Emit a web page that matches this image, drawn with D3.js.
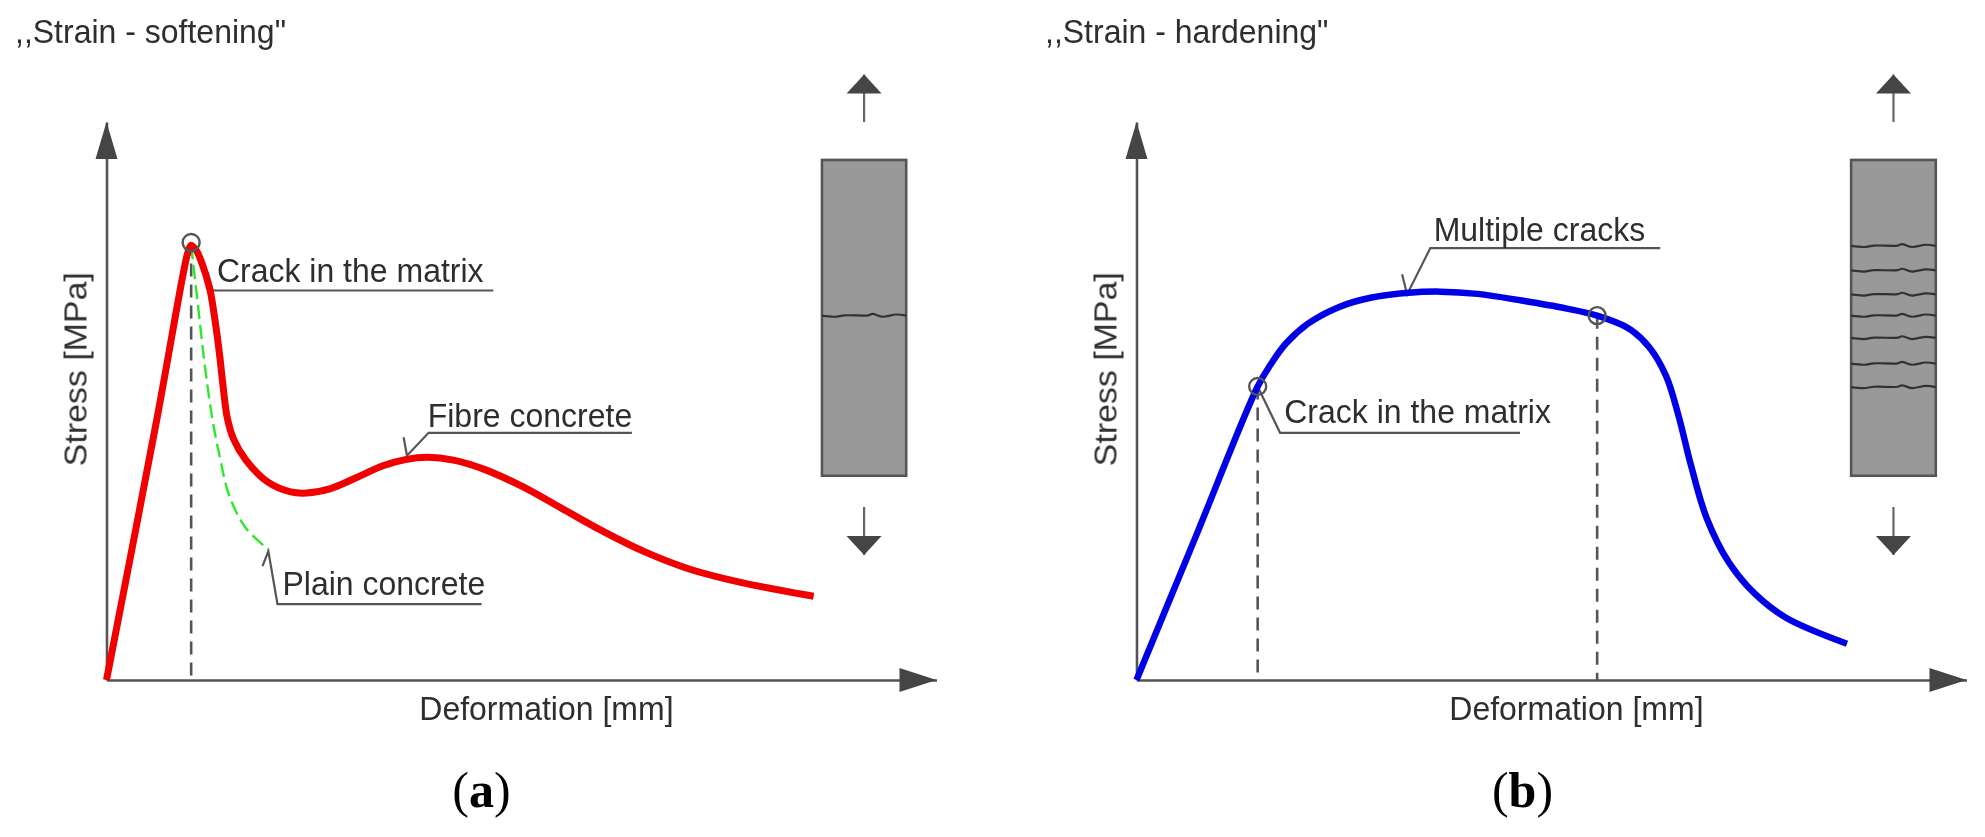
<!DOCTYPE html>
<html>
<head>
<meta charset="utf-8">
<script src="https://cdn.jsdelivr.net/npm/d3@7"></script>
<style>
	html, body { margin: 0; padding: 0; background: #fff; }
	svg { display: block; }
	text { font-family: "Liberation Sans", Arial, sans-serif; fill: #2e2e2e; }
</style>
</head>
<body>
<script>
// curves, [deformation, stress] in arbitrary units 0..100
var fibreConcrete = [[0,0],[6.1,47],[9.2,72.5],[9.8,76.6],[10.2,77.9],[10.8,77],[11.5,74.7],[12.47,69.9],[13.07,64.5],[13.6,58.6],[14.05,52.6],[14.55,47],[15.3,43.2],[16.8,39.4],[19.5,35.4],[22.2,33.7],[24.1,33.5],[27,34.3],[30,36.2],[33.3,38.4],[36,39.5],[38.7,39.9],[41.8,39.4],[45.6,37.7],[50.2,34.6],[54.8,30.8],[59.5,26.9],[64.8,23],[70.2,19.9],[76.4,17.5],[85.2,15]];
var plainConcrete = [[10.2,77.9],[11,67.4],[11.8,56.9],[12.7,47.3],[13.7,39.6],[14.8,33],[16.8,27.2],[19.5,23.4]];
var hardening = [[0,0],[7,25.2],[14.6,52.6],[16.1,56.4],[18,60.3],[20.7,63.9],[24.5,66.9],[28.2,68.5],[32.8,69.4],[36.6,69.6],[41.1,69.2],[46.4,68],[51.7,66.6],[55.5,65.3],[59.3,63],[61.8,59.6],[63.8,54.5],[65.3,47.4],[66.8,38.5],[68.7,29],[71.4,21],[74.4,15.6],[78.2,11.2],[85.6,6.5]];

var softeningMarks = [[10.2,78.4]];
var hardeningMarks = [[14.6,52.6],[55.5,65.3]];

// annotation labels and their leader lines
var softeningLabels = ['Crack in the matrix','Fibre concrete','Plain concrete'];
var softeningLabelPos = [[13.3,71.4],[38.7,45.4],[21.2,15.3]];
var softeningLeaders = [
	[[12.15,73.1],[12.8,69.8],[46.6,69.8]],
	[[35.8,43.5],[36.2,40.2],[38.8,44.3],[63.3,44.3]],
	[[18.8,20.4],[19.5,23.1],[20.6,13.6],[45.2,13.6]]
];
var hardeningLabels = ['Crack in the matrix','Multiple cracks'];
var hardeningLabelPos = [[17.8,46.1],[35.8,78.7]];
var hardeningLeaders = [
	[[14.6,52.6],[17.3,44.3],[46.2,44.3]],
	[[32,72.7],[32.6,69.1],[35.4,77.4],[63.1,77.4]]
];

// cracks in the specimen: stress-axis height of each crack and the wiggle along it
var softeningCracks = [65.3];
var hardeningCracks = [77.8,73.4,69.1,65.3,61.3,56.7,52.5];
var crackWiggle = [[0,0],[.15,-.2],[.27,.05],[.55,.05],[.6,.3],[.72,-.2],[.88,.2],[1,0]];

var width = 1985, height = 837;
var panelW = 830, panelH = 558, baseY = 680;
var textStretch = 1.06; // the reference is a little taller than it is wide

var svg = d3.select('body').append('svg').attr('width', width).attr('height', height);
var defs = svg.append('defs');
defs.append('filter').attr('id', 'soft')
	.attr('x', '-5%').attr('y', '-5%').attr('width', '110%').attr('height', '110%')
	.append('feGaussianBlur').attr('stdDeviation', 0.55);

function placeText(g, str, px, py, anchor) {
	return g.append('text')
		.attr('transform', 'translate(' + px + ',' + py + ') scale(1,' + textStretch + ')')
		.attr('text-anchor', anchor || 'start')
		.attr('font-size', 32)
		.text(str);
}

function drawPanel(p) {
	var x = d3.scaleLinear().domain([0, 100]).range([p.left, p.left + panelW]);
	var y = d3.scaleLinear().domain([0, 100]).range([baseY, baseY - panelH]);
	var g = svg.append('g').attr('filter', 'url(#soft)');
	var line = d3.line().x(function(d) { return x(d[0]); }).y(function(d) { return y(d[1]); });

	// axes
	g.append('g').attr('transform', 'translate(0,' + baseY + ')')
		.call(d3.axisBottom(x).tickValues([]).tickSizeOuter(0))
		.select('.domain').attr('stroke', '#555').attr('stroke-width', 2.6);
	g.append('g').attr('transform', 'translate(' + p.left + ',0)')
		.call(d3.axisLeft(y).tickValues([]).tickSizeOuter(0))
		.select('.domain').attr('stroke', '#555').attr('stroke-width', 2.6);
	g.append('path').attr('fill', '#444')
		.attr('d', 'M' + x(100) + ',' + baseY + 'l-37,-12v24z');
	g.append('path').attr('fill', '#444')
		.attr('d', 'M' + p.left + ',' + y(100) + 'l-11,37h22z');

	// drop lines from the marked points
	g.selectAll('.drop').data(p.marks).enter().append('line')
		.attr('class', 'drop')
		.attr('x1', function(d) { return x(d[0]); })
		.attr('x2', function(d) { return x(d[0]); })
		.attr('y1', function(d) { return y(d[1]); })
		.attr('y2', y(0))
		.attr('stroke', '#555').attr('stroke-width', 2.6).attr('stroke-dasharray', '13,8');

	g.selectAll('.leader').data(p.leaders).enter().append('path')
		.attr('class', 'leader')
		.attr('d', line).attr('fill', 'none').attr('stroke', '#555').attr('stroke-width', 2.2);

	// curves
	if (p.dashed) {
		g.append('path').datum(p.dashed)
			.attr('d', line.curve(d3.curveCatmullRom.alpha(0.5)))
			.attr('fill', 'none').attr('stroke', '#2ee82e').attr('stroke-width', 2.4)
			.attr('stroke-dasharray', '14,6');
	}
	g.append('path').datum(p.curve)
		.attr('d', line.curve(d3.curveCatmullRom.alpha(0.5)))
		.attr('fill', 'none').attr('stroke', p.color).attr('stroke-width', p.lineWidth);
	line.curve(d3.curveLinear);

	g.selectAll('.mark').data(p.marks).enter().append('circle')
		.attr('class', 'mark')
		.attr('cx', function(d) { return x(d[0]); })
		.attr('cy', function(d) { return y(d[1]); })
		.attr('r', 8.5).attr('fill', 'none').attr('stroke', '#555').attr('stroke-width', 2.4);

	// specimen
	var sx0 = x(p.specimen[0]), sx1 = x(p.specimen[1]), sxm = (sx0 + sx1) / 2;
	g.append('rect').attr('x', sx0).attr('y', y(93.2))
		.attr('width', sx1 - sx0).attr('height', y(36.6) - y(93.2))
		.attr('fill', '#999').attr('stroke', '#555').attr('stroke-width', 2.6);
	g.selectAll('.crack').data(p.cracks).enter().append('path')
		.attr('class', 'crack')
		.attr('d', function(c) {
			return d3.line().curve(d3.curveCatmullRom)
				.x(function(d) { return sx0 + d[0] * (sx1 - sx0); })
				.y(function(d) { return y(c + d[1]); })(crackWiggle);
		})
		.attr('fill', 'none').attr('stroke', '#333').attr('stroke-width', 2.2);

	// load arrows above and below the specimen
	g.append('line').attr('x1', sxm).attr('x2', sxm).attr('y1', y(100)).attr('y2', y(108.5))
		.attr('stroke', '#666').attr('stroke-width', 2.2);
	g.append('path').attr('fill', '#444')
		.attr('d', 'M' + sxm + ',' + y(108.5) + 'l-17.5,19h35z');
	g.append('line').attr('x1', sxm).attr('x2', sxm).attr('y1', y(31)).attr('y2', y(22.4))
		.attr('stroke', '#666').attr('stroke-width', 2.2);
	g.append('path').attr('fill', '#444')
		.attr('d', 'M' + sxm + ',' + y(22.4) + 'l-17.5,-19h35z');

	// text
	p.labels.forEach(function(d, i) {
		placeText(g, d, x(p.labelPos[i][0]), y(p.labelPos[i][1]));
	});
	placeText(g, 'Deformation [mm]', x(53), 720, 'middle');
	g.append('text')
		.attr('transform', 'translate(' + (p.left - 20) + ',' + y(55.7) + ') rotate(-90) scale(' + textStretch + ',1)')
		.attr('text-anchor', 'middle').attr('font-size', 32).text('Stress [MPa]');
	placeText(g, p.title, p.titleX, 43);

	var cap = svg.append('text').attr('x', p.capX).attr('y', 807)
		.attr('text-anchor', 'middle').attr('font-size', 50)
		.style('font-family', '"Liberation Serif", serif').style('fill', '#000');
	cap.append('tspan').text('(');
	cap.append('tspan').attr('font-weight', 'bold').text(p.cap);
	cap.append('tspan').text(')');
}

drawPanel({
	left: 106.5, color: '#f00000', lineWidth: 7, curve: fibreConcrete, dashed: plainConcrete,
	marks: softeningMarks, leaders: softeningLeaders, labels: softeningLabels, labelPos: softeningLabelPos,
	specimen: [86.2, 96.35], cracks: softeningCracks,
	title: ',,Strain - softening"', titleX: 15, cap: 'a', capX: 481.5
});
drawPanel({
	left: 1136.5, color: '#0000e6', lineWidth: 6.5, curve: hardening,
	marks: hardeningMarks, leaders: hardeningLeaders, labels: hardeningLabels, labelPos: hardeningLabelPos,
	specimen: [86.1, 96.3], cracks: hardeningCracks,
	title: ',,Strain - hardening"', titleX: 1045, cap: 'b', capX: 1522.5
});
</script>
</body>
</html>
